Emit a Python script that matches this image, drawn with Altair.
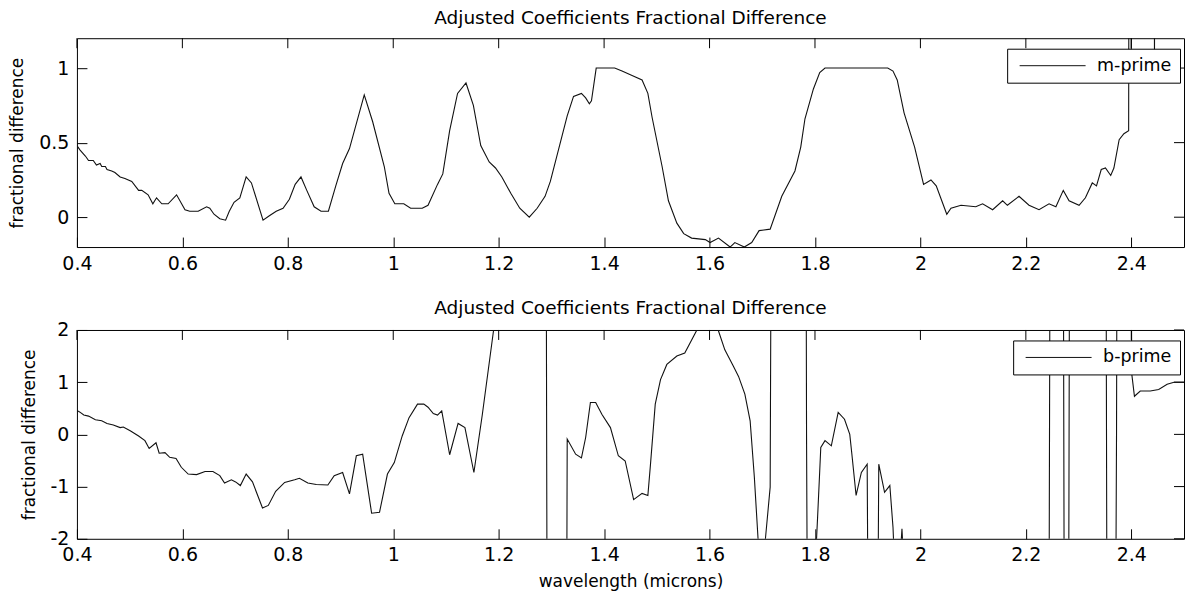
import altair as alt
import pandas as pd

# ---- m-prime fractional difference vs wavelength (microns) ----
m_wave = [0.400, 0.406, 0.416, 0.422, 0.431, 0.437, 0.444, 0.447, 0.454, 0.457,
          0.466, 0.472, 0.482, 0.491, 0.504, 0.517, 0.523, 0.535, 0.544, 0.551,
          0.561, 0.573, 0.589, 0.605, 0.614, 0.630, 0.646, 0.652, 0.660, 0.671,
          0.682, 0.689, 0.698, 0.709, 0.721, 0.731, 0.753, 0.765, 0.778, 0.791,
          0.803, 0.814, 0.825, 0.836, 0.850, 0.863, 0.877, 0.891, 0.904, 0.917,
          0.945, 0.961, 0.983, 0.992, 1.003, 1.020, 1.033, 1.055, 1.066, 1.084,
          1.094, 1.107, 1.122, 1.138, 1.152, 1.166, 1.182, 1.194, 1.206, 1.223,
          1.240, 1.258, 1.273, 1.288, 1.298, 1.314, 1.330, 1.342, 1.357, 1.365,
          1.372, 1.376, 1.385, 1.420, 1.434, 1.453, 1.472, 1.483, 1.491, 1.510,
          1.522, 1.538, 1.551, 1.566, 1.592, 1.601, 1.617, 1.639, 1.648, 1.666,
          1.680, 1.694, 1.715, 1.737, 1.762, 1.773, 1.781, 1.797, 1.809, 1.819,
          1.938, 1.948, 1.956, 1.969, 1.989, 2.006, 2.020, 2.030, 2.050, 2.058,
          2.077, 2.105, 2.118, 2.137, 2.156, 2.165, 2.187, 2.206, 2.225, 2.244,
          2.257, 2.271, 2.282, 2.301, 2.313, 2.326, 2.334, 2.343, 2.351, 2.361,
          2.367, 2.377, 2.386, 2.395, 2.396, 2.399, 2.400, 2.401, 2.443, 2.444,
          2.445, 2.500]
m_frac = [0.48, 0.45, 0.41, 0.38, 0.38, 0.35, 0.36, 0.34, 0.34, 0.32,
          0.31, 0.30, 0.27, 0.26, 0.24, 0.18, 0.18, 0.15, 0.09, 0.13,
          0.09, 0.09, 0.15, 0.05, 0.04, 0.04, 0.07, 0.06, 0.02, -0.01,
          -0.02, 0.04, 0.10, 0.13, 0.27, 0.23, -0.02, 0.01, 0.04, 0.06,
          0.12, 0.22, 0.27, 0.18, 0.07, 0.04, 0.04, 0.21, 0.36, 0.46,
          0.82, 0.64, 0.34, 0.16, 0.09, 0.09, 0.06, 0.06, 0.08, 0.22,
          0.29, 0.58, 0.83, 0.90, 0.75, 0.48, 0.37, 0.33, 0.27, 0.16,
          0.06, 0.00, 0.06, 0.14, 0.24, 0.46, 0.68, 0.81, 0.83, 0.80,
          0.76, 0.78, 1.00, 1.00, 0.98, 0.95, 0.92, 0.83, 0.67, 0.34,
          0.11, -0.04, -0.11, -0.14, -0.15, -0.17, -0.14, -0.20, -0.17, -0.20,
          -0.17, -0.09, -0.08, 0.14, 0.31, 0.47, 0.66, 0.86, 0.97, 1.00,
          1.00, 0.98, 0.92, 0.70, 0.47, 0.22, 0.25, 0.21, 0.02, 0.06,
          0.08, 0.07, 0.09, 0.05, 0.11, 0.08, 0.14, 0.08, 0.05, 0.09,
          0.07, 0.18, 0.11, 0.08, 0.13, 0.23, 0.21, 0.32, 0.33, 0.28,
          0.33, 0.52, 0.56, 0.58, 3.00, 3.00, 1.00, 3.00, 3.00, 1.05,
          3.00, 3.00]

# ---- b-prime fractional difference vs wavelength (microns) ----
b_wave = [0.400, 0.405, 0.413, 0.422, 0.435, 0.447, 0.457, 0.469, 0.482, 0.488,
          0.501, 0.517, 0.529, 0.537, 0.550, 0.556, 0.567, 0.576, 0.588, 0.598,
          0.611, 0.627, 0.643, 0.658, 0.671, 0.680, 0.693, 0.701, 0.710, 0.721,
          0.733, 0.752, 0.763, 0.777, 0.794, 0.813, 0.822, 0.838, 0.854, 0.876,
          0.888, 0.904, 0.917, 0.930, 0.942, 0.959, 0.974, 0.989, 1.002, 1.017,
          1.030, 1.046, 1.058, 1.066, 1.076, 1.084, 1.092, 1.107, 1.123, 1.136,
          1.153, 1.169, 1.190, 1.200, 1.250, 1.290, 1.292, 1.320, 1.329, 1.330,
          1.346, 1.357, 1.365, 1.374, 1.384, 1.396, 1.412, 1.427, 1.440, 1.456,
          1.472, 1.483, 1.488, 1.497, 1.507, 1.519, 1.538, 1.553, 1.575, 1.590,
          1.605, 1.617, 1.629, 1.645, 1.655, 1.667, 1.677, 1.685, 1.692, 1.699,
          1.706, 1.715, 1.717, 1.750, 1.783, 1.784, 1.786, 1.798, 1.803, 1.805,
          1.809, 1.811, 1.819, 1.831, 1.844, 1.856, 1.866, 1.870, 1.878, 1.888,
          1.899, 1.901, 1.919, 1.921, 1.932, 1.942, 1.948, 1.951, 1.962, 1.965,
          1.968, 2.050, 2.150, 2.244, 2.246, 2.271, 2.273, 2.281, 2.283, 2.352,
          2.354, 2.370, 2.372, 2.373, 2.399, 2.401, 2.406, 2.417, 2.436, 2.452,
          2.468, 2.481, 2.500]
b_frac = [0.46, 0.43, 0.37, 0.35, 0.28, 0.26, 0.21, 0.18, 0.13, 0.14,
          0.07, -0.03, -0.12, -0.27, -0.16, -0.36, -0.35, -0.44, -0.46, -0.63,
          -0.76, -0.77, -0.71, -0.71, -0.79, -0.93, -0.87, -0.91, -0.98, -0.76,
          -0.91, -1.41, -1.36, -1.09, -0.92, -0.87, -0.84, -0.93, -0.96, -0.97,
          -0.79, -0.73, -1.14, -0.41, -0.38, -1.51, -1.49, -0.76, -0.54, -0.03,
          0.32, 0.58, 0.58, 0.52, 0.40, 0.37, 0.45, -0.39, 0.21, 0.13,
          -0.73, 0.38, 1.97, 2.60, 4.00, 4.50, -4.50, -4.00, -3.50, -0.09,
          -0.38, -0.45, -0.06, 0.61, 0.61, 0.38, 0.13, -0.41, -0.51, -1.25,
          -1.13, -1.17, -0.57, 0.58, 1.05, 1.34, 1.50, 1.56, 1.98, 2.40,
          2.30, 1.98, 1.62, 1.31, 1.11, 0.77, 0.26, -0.82, -2.00, -2.40,
          -2.00, -1.01, 4.50, 5.00, 4.50, -0.02, -4.50, -3.00, -2.00, -1.58,
          -0.70, -0.25, -0.12, -0.22, 0.42, 0.29, 0.00, -0.38, -1.17, -0.73,
          -0.57, -4.00, -4.00, -0.57, -1.11, -0.98, -1.78, -2.50, -2.30, -1.81,
          -2.40, -3.50, -3.00, -3.50, 4.50, 4.50, -4.50, -4.50, 4.50, 4.50,
          -4.50, -4.50, 0.00, 4.50, 4.50, 1.15, 0.73, 0.83, 0.83, 0.86,
          0.96, 1.00, 1.00]

x_ticks = [0.4, 0.6, 0.8, 1, 1.2, 1.4, 1.6, 1.8, 2, 2.2, 2.4]
m_y_ticks = [0, 0.5, 1]
b_y_ticks = [-2, -1, 0, 1, 2]

TITLE = "Adjusted Coefficients Fractional Difference"
FONT = "DejaVu Sans"
W, H = 1108, 209
TICK = 10
X_DOMAIN = [0.4, 2.5]


def panel(wave, frac, name, y_domain, y_ticks, x_title, legend_x, title_dy):
    df = pd.DataFrame({"wavelength": wave, "frac": frac,
                       "series": name, "i": list(range(len(wave)))})
    xscale = alt.Scale(domain=X_DOMAIN, nice=False, zero=False)
    yscale = alt.Scale(domain=y_domain, nice=False, zero=False)
    xaxis = alt.Axis(values=x_ticks, labelExpr="'' + datum.value",
                     tickSize=TICK, offset=-TICK, domain=False,
                     labelPadding=7, labelFlush=False, labelOverlap=False,
                     grid=False, titlePadding=9)
    yaxis = alt.Axis(values=y_ticks, labelExpr="'' + datum.value",
                     tickSize=TICK, offset=-TICK, domain=False,
                     labelPadding=8, labelOverlap=False, grid=False,
                     titlePadding=12)

    def xenc(field):
        return alt.X(field, type="quantitative", scale=xscale,
                     title=x_title, axis=xaxis)

    def yenc(field):
        return alt.Y(field, type="quantitative", scale=yscale,
                     title="fractional difference", axis=yaxis)

    line = alt.Chart(df).mark_line(clip=True, strokeWidth=1.1,
                                   color="#111").encode(
        x=xenc("wavelength"),
        y=yenc("frac"),
        order="i:Q",
        color=alt.Color("series:N",
                        scale=alt.Scale(domain=[name], range=["#111"]),
                        legend=alt.Legend(title=None, orient="none",
                                          legendX=legend_x, legendY=10.5,
                                          symbolType="stroke",
                                          symbolSize=4356,
                                          symbolStrokeWidth=1,
                                          symbolOffset=4, labelOffset=11,
                                          clipHeight=18, padding=8,
                                          strokeColor="black",
                                          fillColor="white",
                                          labelFont=FONT, labelFontSize=17.5,
                                          labelColor="black")),
    )

    # inward tick marks along the top and right edges of the frame
    top_ticks = alt.Chart(pd.DataFrame({"wavelength": x_ticks})).mark_rule(
        color="black", strokeWidth=1).encode(
        x=xenc("wavelength"), y=alt.value(0), y2=alt.value(TICK))
    right_ticks = alt.Chart(pd.DataFrame({"frac": y_ticks})).mark_rule(
        color="black", strokeWidth=1).encode(
        y=yenc("frac"), x=alt.value(W - TICK), x2=alt.value(W))

    return alt.layer(line, top_ticks, right_ticks).properties(
        width=W, height=H,
        title=alt.TitleParams(TITLE, font=FONT, fontSize=18.5,
                              fontWeight="normal", color="black",
                              baseline="alphabetic", offset=15,
                              dy=title_dy, anchor="middle"))


top = panel(m_wave, m_frac, "m-prime", [-0.2, 1.2], m_y_ticks, None, 931, 20)
bottom = panel(b_wave, b_frac, "b-prime", [-2, 2], b_y_ticks,
               "wavelength (microns)", 937, 27)

chart = alt.vconcat(top, bottom, spacing=25).resolve_scale(
    color="independent"
).properties(
    padding={"left": 8, "top": 8, "right": 0, "bottom": 0},
    background="white",
).configure_view(
    stroke="black", strokeWidth=1
).configure_axis(
    labelFont=FONT, labelFontSize=19, labelColor="black",
    titleFont=FONT, titleFontSize=17, titleFontWeight="normal",
    titleColor="black", tickColor="black", tickWidth=1,
)

chart.save("out.html", embed_options={"renderer": "svg", "actions": False})
